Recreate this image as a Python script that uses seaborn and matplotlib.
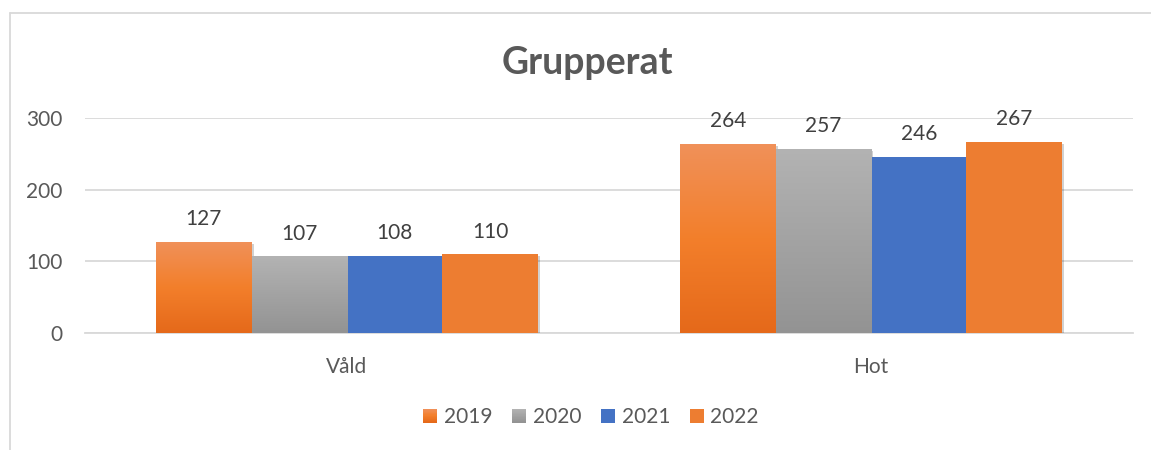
import numpy as np
import pandas as pd
import matplotlib
matplotlib.use("Agg")
import matplotlib.pyplot as plt
import seaborn as sns
from matplotlib.colors import LinearSegmentedColormap
from matplotlib.legend_handler import HandlerBase
from matplotlib.patches import Rectangle, Patch
from matplotlib.lines import Line2D
import matplotlib.patheffects as pe

# ---- data ----
categories = ["Våld", "Hot"]
years = ["2019", "2020", "2021", "2022"]
values_2019 = [127, 264]
values_2020 = [107, 257]
values_2021 = [108, 246]
values_2022 = [110, 267]
y_ticks = [0, 100, 200, 300]
title = "Grupperat"

# ---- styles ----
palette = {"2019": "#F28033", "2020": "#A5A5A5", "2021": "#4472C4", "2022": "#ED7D31"}
gradients = {
    "2019": ["#F0915A", "#F37F2B", "#E5691A"],
    "2020": ["#B3B3B3", "#A3A3A3", "#939393"],
}
text_col = "#595959"
label_col = "#404040"
grid_col = "#D9D9D9"
fs = 15

sns.set_theme(style="white")
plt.rcParams["font.family"] = ["Lato", "DejaVu Sans"]

df = pd.DataFrame({
    "kategori": categories * 4,
    "år": np.repeat(years, len(categories)),
    "antal": values_2019 + values_2020 + values_2021 + values_2022,
})

W, H = 1151, 450
fig = plt.figure(figsize=(W / 100, H / 100), dpi=100)
ax = fig.add_axes([85 / W, 1 - 333 / H, (1133 - 85) / W, (333 - 118) / H])

sns.barplot(data=df, x="kategori", y="antal", hue="år", hue_order=years,
            order=categories, palette=palette, width=0.729, saturation=1,
            legend=False, linewidth=0, edgecolor="none", ax=ax, zorder=3)

shadow = [pe.SimplePatchShadow(offset=(1.5, -1.5), shadow_rgbFace="#000000", alpha=0.18), pe.Normal()]

for yr, cont in zip(years, ax.containers):
    for bar in cont:
        bar.set_path_effects(shadow)
        if yr in gradients:
            cmap = LinearSegmentedColormap.from_list("g" + yr, gradients[yr])
            grad = cmap(np.linspace(0, 1, 256))[:, None, :]
            x0, w = bar.get_x(), bar.get_width()
            h = bar.get_height()
            im = ax.imshow(grad, extent=[x0, x0 + w, 0, h], aspect="auto",
                           zorder=bar.get_zorder() + 0.1, interpolation="bilinear")
            im.set_clip_path(bar)
    ax.bar_label(cont, padding=9, fontsize=fs, color=label_col)

ax.set_xlim(-0.5, len(categories) - 0.5)
ax.set_ylim(0, 300)
ax.set_yticks(y_ticks)
ax.set_xlabel("")
ax.set_ylabel("")
ax.yaxis.grid(True, color=grid_col, linewidth=1.3, zorder=0)
ax.set_axisbelow(True)
for s in ["top", "right", "left"]:
    ax.spines[s].set_visible(False)
ax.spines["bottom"].set_color(grid_col)
ax.spines["bottom"].set_linewidth(1.3)
ax.tick_params(axis="y", length=0, pad=16, labelsize=fs, labelcolor=text_col)
ax.tick_params(axis="x", length=0, pad=17, labelsize=fs, labelcolor=text_col)

fig.text(587 / W, 1 - 63 / H, title, ha="center", va="center",
         fontsize=27, fontweight="bold", color=text_col)


class GradHandler(HandlerBase):
    def __init__(self, colors):
        super().__init__()
        self.colors = colors

    def create_artists(self, legend, orig_handle, xdescent, ydescent,
                       width, height, fontsize, trans):
        cmap = LinearSegmentedColormap.from_list("lg", self.colors)
        n = 24
        arts = []
        for i in range(n):
            y0 = -ydescent + height - (i + 1) * height / n
            arts.append(Rectangle((-xdescent, y0), width, height / n + 0.05,
                                  facecolor=cmap(i / (n - 1)), edgecolor="none",
                                  transform=trans))
        return arts


handles = [Patch(facecolor=palette[y], edgecolor="none", label=y) for y in years]
hmap = {h: GradHandler(gradients[y]) for h, y in zip(handles, years) if y in gradients}
leg = fig.legend(handles=handles, handler_map=hmap, ncol=4, loc="center",
                 bbox_to_anchor=(591 / W, 1 - 417 / H), frameon=False,
                 fontsize=fs, handlelength=0.66, handleheight=0.66,
                 handletextpad=0.33, columnspacing=0.95)
for t in leg.get_texts():
    t.set_color(text_col)

# outer chart frame (cropped screenshot)
fig.add_artist(Line2D([9.5 / W, 9.5 / W], [0, 1 - 13 / H], transform=fig.transFigure,
                      color=grid_col, lw=1.3))
fig.add_artist(Line2D([9.5 / W, 1], [1 - 13 / H, 1 - 13 / H], transform=fig.transFigure,
                      color=grid_col, lw=1.3))

fig.savefig("out.png", dpi=100)
